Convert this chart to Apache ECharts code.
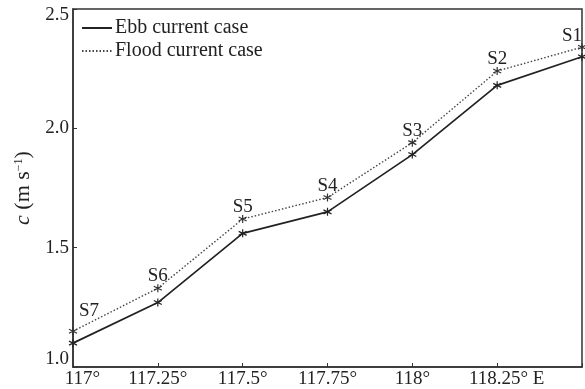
<!DOCTYPE html>
<html><head><meta charset="utf-8">
<script src="https://cdn.jsdelivr.net/npm/echarts@6/dist/echarts.min.js"></script>
<style>html,body{margin:0;padding:0;background:#fff}#c{width:585px;height:389px}</style>
</head><body><div id="c"></div>
<script>
const longitudes = [117, 117.25, 117.5, 117.75, 118, 118.25, 118.5];
const stations = ['S7', 'S6', 'S5', 'S4', 'S3', 'S2', 'S1'];
const ebb = [1.10, 1.27, 1.56, 1.65, 1.89, 2.18, 2.30];
const flood = [1.15, 1.33, 1.62, 1.71, 1.94, 2.24, 2.34];
const xTickLabels = {117: '117°', 117.25: '117.25°', 117.5: '117.5°', 117.75: '117.75°', 118: '118°', 118.25: '118.25° E', 118.5: ''};
const yTickLabels = {1: '1.0', 1.5: '1.5', 2: '2.0', 2.5: '2.5'};
const seriesNames = ['Ebb current case', 'Flood current case'];

const star = 'path://M0,-5L0,5M-4.33,-2.5L4.33,2.5M-4.33,2.5L4.33,-2.5';
const font = 'Liberation Serif';
const fs = 19;
const chart = echarts.init(document.getElementById('c'));

const floodData = longitudes.map((x, i) => {
  const d = {value: [x, flood[i]], name: stations[i]};
  if (i === 0) d.label = {offset: [16, -4]};
  if (i === longitudes.length - 1) d.label = {offset: [-10, 5]};
  return d;
});

chart.setOption({
  animation: false,
  grid: {left: 73, right: 2, top: 9, bottom: 22, show: true, borderColor: '#333', borderWidth: 1.5},
  legend: {
    orient: 'vertical', left: 76, top: 13, itemWidth: 30, itemHeight: 10, itemGap: 3,
    itemStyle: {opacity: 0},
    textStyle: {fontFamily: font, fontSize: 20, color: '#222', padding: [0, 0, 0, -2]},
    data: seriesNames
  },
  xAxis: {
    type: 'value', min: 117, max: 118.5, interval: 0.25,
    axisLine: {lineStyle: {color: '#333', width: 1.5}},
    axisTick: {inside: true, length: 4, lineStyle: {color: '#333'}},
    splitLine: {show: false},
    axisLabel: {
      fontFamily: font, fontSize: fs, color: '#222', margin: 3,
      formatter: v => {
        const s = xTickLabels[Math.round(v * 100) / 100];
        if (!s) return '';
        if (s.indexOf('E') >= 0) return '{p|}' + s;
        if (v === 117) return '{q|}' + s;
        return s;
      },
      rich: {p: {width: 19}, q: {width: 19}}
    }
  },
  yAxis: {
    type: 'value', min: 1.0, max: 2.5, interval: 0.5,
    axisLine: {show: true, lineStyle: {color: '#333', width: 1.5}},
    axisTick: {show: true, inside: true, length: 4, lineStyle: {color: '#333'}},
    splitLine: {show: false},
    axisLabel: {
      fontFamily: font, fontSize: fs, color: '#222', margin: 4,
      formatter: v => {
        const s = yTickLabels[Math.round(v * 10) / 10];
        if (v === 1) return '{lo|' + s + '}';
        if (v === 2.5) return '{hi|' + s + '}';
        return s;
      },
      rich: {
        lo: {fontFamily: font, fontSize: fs, color: '#222', padding: [0, 0, 16, 0]},
        hi: {fontFamily: font, fontSize: fs, color: '#222', padding: [13, 0, 0, 0]}
      }
    },
    name: '{i|c} (m s{s|−1})',
    nameLocation: 'middle', nameGap: 35, nameRotate: 90,
    nameTextStyle: {
      fontFamily: font, fontSize: 22, color: '#222',
      rich: {i: {fontFamily: font, fontStyle: 'italic', fontSize: 22, color: '#222'},
             s: {fontFamily: font, fontSize: 12, color: '#222', verticalAlign: 'top', padding: [0, 0, 9, 0]}}
    }
  },
  series: [
    {
      name: seriesNames[0], type: 'line',
      data: longitudes.map((x, i) => [x, ebb[i]]),
      symbol: star, symbolSize: 8,
      itemStyle: {color: 'none', borderColor: '#222', borderWidth: 1.2},
      lineStyle: {color: '#222', width: 1.7, type: 'solid'},
      z: 3
    },
    {
      name: seriesNames[1], type: 'line',
      data: floodData,
      symbol: star, symbolSize: 8,
      itemStyle: {color: 'none', borderColor: '#333', borderWidth: 1.2},
      lineStyle: {color: '#444', width: 1.4, type: [1.5, 2]},
      label: {show: true, position: 'top', distance: 0, offset: [0, 4], formatter: p => p.name, fontFamily: font, fontSize: fs, color: '#222'},
      z: 2
    }
  ]
});
</script></body></html>
